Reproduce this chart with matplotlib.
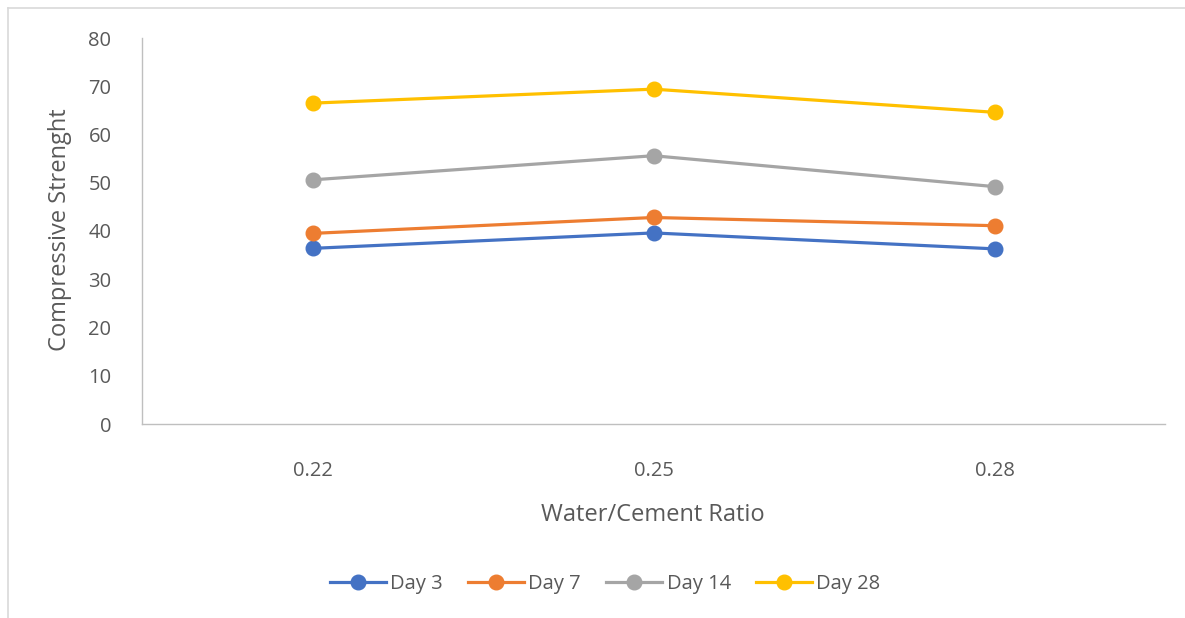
import matplotlib.pyplot as plt
from matplotlib.lines import Line2D

ratios = ["0.22", "0.25", "0.28"]
day3 = [36.4, 39.6, 36.3]
day7 = [39.5, 42.8, 41.1]
day14 = [50.6, 55.6, 49.2]
day28 = [66.5, 69.4, 64.6]

series = [("Day 3", day3, "#4472C4"),
          ("Day 7", day7, "#ED7D31"),
          ("Day 14", day14, "#A5A5A5"),
          ("Day 28", day28, "#FFC000")]

plt.rcParams['font.family'] = ['Open Sans', 'DejaVu Sans']
txt = '#595959'

W, H = 1185, 618
fig = plt.figure(figsize=(W / 100, H / 100), dpi=100)
# plot box in pixels: left 142, right 1165, top 38, bottom 424
ax = fig.add_axes([142 / W, 1 - 424 / H, (1165 - 142) / W, (424 - 38) / H])

x = [i + 0.5 for i in range(len(ratios))]
for name, vals, col in series:
    ax.plot(x, vals, color=col, lw=2.3, marker='o', ms=10.5,
            solid_capstyle='round', label=name)

ax.set_xlim(0, len(ratios))
ax.set_ylim(0, 80)
ax.set_yticks(range(0, 81, 10))
ax.set_xticks(x)
ax.set_xticklabels(ratios)
ax.tick_params(length=0, labelsize=14.5, labelcolor=txt)
ax.tick_params(axis='y', pad=22)
ax.tick_params(axis='x', pad=27)

for s in ['top', 'right']:
    ax.spines[s].set_visible(False)
for s in ['left', 'bottom']:
    ax.spines[s].set_color('#BFBFBF')
    ax.spines[s].set_linewidth(1.0)

fig.text(60 / W, 1 - 230 / H, "Compressive Strenght", rotation=90,
         ha='center', va='center', fontsize=17, color=txt)
fig.text(653 / W, 1 - 515 / H, "Water/Cement Ratio",
         ha='center', va='center', fontsize=17, color=txt)

handles = [Line2D([], [], color=c, lw=2.3, marker='o', ms=10.5) for _, _, c in series]
fig.legend(handles, [n for n, _, _ in series], loc='center',
           bbox_to_anchor=(605 / W, 1 - 584 / H), ncol=4, frameon=False,
           fontsize=14.5, labelcolor=txt, handlelength=2.8,
           handletextpad=0.2, columnspacing=1.25)

# chart frame edges
fig.add_artist(Line2D([8 / W, 8 / W], [0, 1 - 8 / H], color='#D9D9D9', lw=1.2))
fig.add_artist(Line2D([8 / W, 1], [1 - 8 / H, 1 - 8 / H], color='#D9D9D9', lw=1.2))

fig.savefig('out.png', dpi=100)
